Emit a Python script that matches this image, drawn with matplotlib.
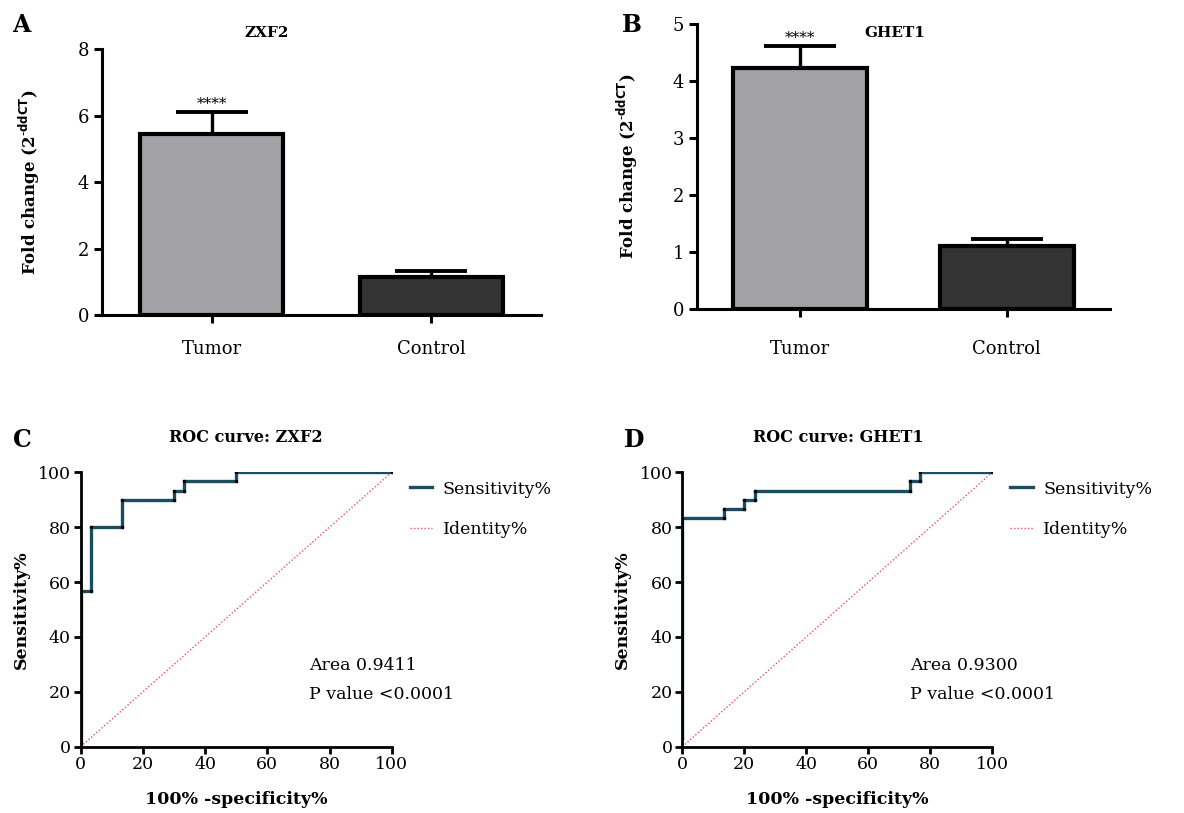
import matplotlib
matplotlib.use("Agg")
import matplotlib.pyplot as plt
from matplotlib.lines import Line2D

plt.rcParams['font.family'] = ['DejaVu Serif']

W, H = 1184, 813

# ---- data ----
groups = ["Tumor", "Control"]
zxf2_mean = [5.45, 1.15]
zxf2_sem = [0.67, 0.18]
ghet1_mean = [4.24, 1.11]
ghet1_sem = [0.38, 0.12]

roc_zxf2_fpr = [0, 0, 3.33, 3.33, 13.33, 13.33, 30, 30, 33.33, 33.33, 50, 50, 100]
roc_zxf2_tpr = [0, 56.67, 56.67, 80, 80, 90, 90, 93.33, 93.33, 96.67, 96.67, 100, 100]
roc_ghet1_fpr = [0, 0, 13.33, 13.33, 20, 20, 23.33, 23.33, 73.33, 73.33, 76.67, 76.67, 100]
roc_ghet1_tpr = [3.33, 83.33, 83.33, 86.67, 86.67, 90, 90, 93.33, 93.33, 96.67, 96.67, 100, 100]
identity = [0, 100]
roc_ticks = [0, 20, 40, 60, 80, 100]

fig = plt.figure(figsize=(W / 100, H / 100), dpi=100)


def px_axes(x0, y0, x1, y1):
    return fig.add_axes([x0 / W, 1 - y1 / H, (x1 - x0) / W, (y1 - y0) / H])


def ftext(x, y, s, **kw):
    fig.text(x / W, 1 - y / H, s, **kw)


TUMOR_C = "#a2a1a6"
CTRL_C = "#333333"
ROC_C = "#1b4d5e"
ID_C = "#e8506a"


def bar_panel(ax, means, sems, ymax, yticks, xpad):
    x = list(range(len(groups)))
    ax.bar(x, means, width=0.65, color=[TUMOR_C, CTRL_C], edgecolor="black",
           linewidth=3.0, zorder=2)
    ax.errorbar(x, means, yerr=[[0] * len(sems), sems], fmt="none", ecolor="black",
                elinewidth=2.4, capsize=26, capthick=2.8, zorder=1)
    ax.set_xlim(-0.5, 1.5)
    ax.set_ylim(0, ymax)
    ax.set_yticks(yticks)
    ax.set_xticks(x)
    ax.set_xticklabels(groups, fontsize=13)
    for s in ["top", "right"]:
        ax.spines[s].set_visible(False)
    for s in ["left", "bottom"]:
        ax.spines[s].set_linewidth(2.2)
    ax.tick_params(axis="y", length=6, width=2.2, labelsize=13, pad=3)
    ax.tick_params(axis="x", length=6, width=2.2, pad=xpad)
    ax.set_ylabel(r"Fold change (2$^{\mathbf{\text{-}ddCT}}$)", fontsize=12,
                  fontweight="bold")
    ax.patch.set_alpha(0)


# Panel A
axA = px_axes(101.7, 49.3, 541, 315)
bar_panel(axA, zxf2_mean, zxf2_sem, 8, [0, 2, 4, 6, 8], 12)
axA.yaxis.set_label_coords(-0.136, 0.5)
axA.text(0, zxf2_mean[0] + zxf2_sem[0] + 0.02, "****", ha="center", va="bottom",
         fontsize=11)

# Panel B
axB = px_axes(696.7, 24.3, 1110, 309.3)
bar_panel(axB, ghet1_mean, ghet1_sem, 5, [0, 1, 2, 3, 4, 5], 16)
axB.yaxis.set_label_coords(-0.137, 0.5)
axB.text(0, ghet1_mean[0] + ghet1_sem[0] + 0.02, "****", ha="center", va="bottom",
         fontsize=11)


def roc_panel(ax, fpr, tpr, area):
    ax.plot(identity, identity, color=ID_C, linestyle=(0, (1, 1.5)), linewidth=1.0,
            zorder=1)
    ax.plot(fpr, tpr, color=ROC_C, linewidth=2.4, zorder=2,
            marker="o", markersize=1.5, markerfacecolor="black",
            markeredgecolor="black", solid_joinstyle="miter")
    ax.set_xlim(0, 100)
    ax.set_ylim(0, 100)
    ax.set_xticks(roc_ticks)
    ax.set_yticks(roc_ticks)
    for s in ["top", "right"]:
        ax.spines[s].set_visible(False)
    for s in ["left", "bottom"]:
        ax.spines[s].set_linewidth(2.0)
    ax.tick_params(length=5, width=2.0, labelsize=12.5, pad=2)
    ax.set_xlabel("100% -specificity%", fontsize=12.5, fontweight="bold", labelpad=13)
    ax.set_ylabel("Sensitivity%", fontsize=12.5, fontweight="bold", labelpad=6)
    ax.text(0.735, 0.295, f"Area {area}", transform=ax.transAxes, fontsize=12.5,
            va="center")
    ax.text(0.735, 0.19, "P value <0.0001", transform=ax.transAxes, fontsize=12.5,
            va="center")
    handles = [Line2D([0], [0], color=ROC_C, linewidth=2.4),
               Line2D([0], [0], color=ID_C, linestyle=(0, (1, 1.5)), linewidth=1.0)]
    ax.legend(handles, ["Sensitivity%", "Identity%"], loc="upper left",
              bbox_to_anchor=(1.008, 1.027), frameon=False, fontsize=12.5,
              handlelength=1.3, handletextpad=0.6, labelspacing=1.35)
    ax.patch.set_alpha(0)


axC = px_axes(80.7, 472.3, 391.7, 746.7)
roc_panel(axC, roc_zxf2_fpr, roc_zxf2_tpr, "0.9411")

axD = px_axes(682.3, 472.3, 992.3, 746.7)
roc_panel(axD, roc_ghet1_fpr, roc_ghet1_tpr, "0.9300")

# titles and panel letters
ftext(267, 33, "ZXF2", ha="center", va="center", fontsize=11, fontweight="bold")
ftext(895, 33, "GHET1", ha="center", va="center", fontsize=11, fontweight="bold")
ftext(246, 437, "ROC curve: ZXF2", ha="center", va="center", fontsize=11.5,
      fontweight="bold")
ftext(838, 437, "ROC curve: GHET1", ha="center", va="center", fontsize=11.5,
      fontweight="bold")
for x, y, s in [(21, 25, "A"), (632, 25, "B"), (22, 440, "C"), (634, 440, "D")]:
    ftext(x, y, s, ha="center", va="center", fontsize=17, fontweight="bold")

fig.savefig("out.png", dpi=100, facecolor="white")
